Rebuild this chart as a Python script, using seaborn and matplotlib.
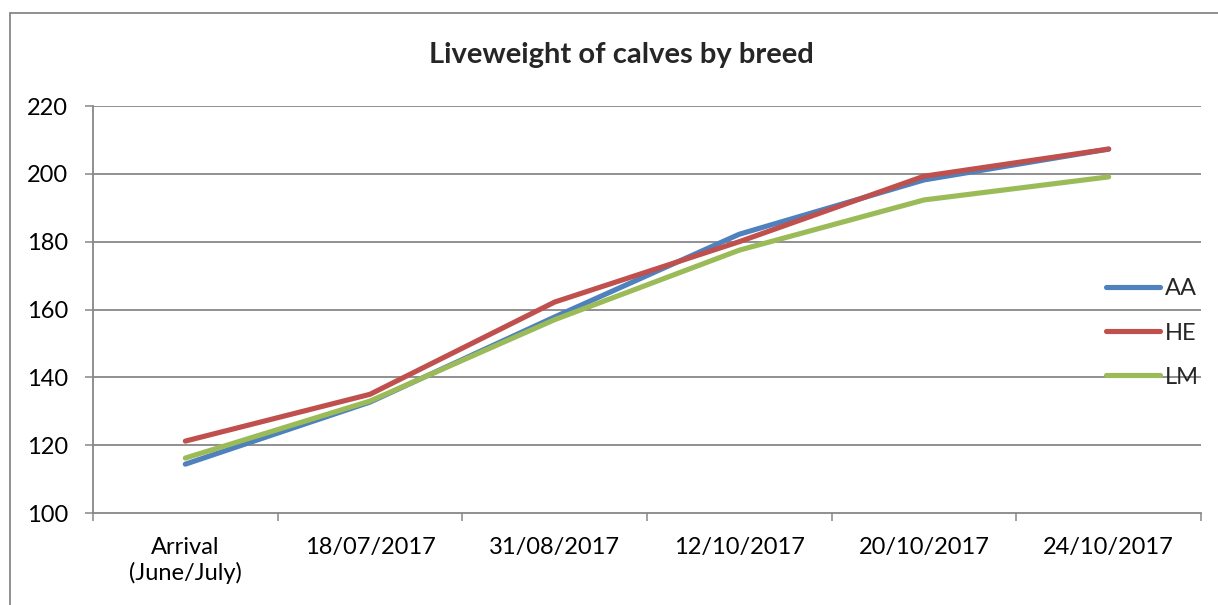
import matplotlib
matplotlib.use("Agg")
import matplotlib.pyplot as plt
from matplotlib.lines import Line2D
import seaborn as sns
import pandas as pd
import numpy as np

categories = ["Arrival\n(June/July)", "18/07/2017", "31/08/2017", "12/10/2017", "20/10/2017", "24/10/2017"]
aa = [114.4, 132.7, 157.8, 182.2, 198.2, 207.3]
he = [121.2, 135.0, 162.2, 180.0, 199.3, 207.3]
lm = [116.2, 133.0, 157.0, 177.5, 192.3, 199.1]
breeds = ["AA", "HE", "LM"]
colors = ["#4F81BD", "#C0504D", "#9BBB59"]
yticks = [100, 120, 140, 160, 180, 200, 220]

sns.set_theme(style="white")
plt.rcParams['font.family'] = ['Lato', 'DejaVu Sans']

rows = []
for b, vals in zip(breeds, [aa, he, lm]):
    for i, v in enumerate(vals):
        rows.append({"pos": i, "weight": v, "breed": b})
df = pd.DataFrame(rows)

W, H = 1218, 605
fig = plt.figure(figsize=(W / 100, H / 100), dpi=100)
ax = fig.add_axes([93 / W, (H - 513) / H, (1201 - 93) / W, (513 - 106) / H])

sns.lineplot(data=df, x="pos", y="weight", hue="breed", palette=dict(zip(breeds, colors)),
             linewidth=3.7, ax=ax, legend=False, solid_capstyle="round", solid_joinstyle="round")

grid_c = "#878787"
ax.set_xlim(-0.5, len(categories) - 0.5)
ax.set_ylim(100, 220)
ax.set_yticks(yticks)
ax.set_yticklabels([str(t) for t in yticks])
for y in yticks[1:]:
    ax.axhline(y, color=grid_c, lw=1.3, zorder=0)

ax.set_xticks(np.arange(len(categories)))
ax.set_xticklabels(categories, linespacing=1.25)
ax.set_xticks(np.arange(-0.5, len(categories), 1.0), minor=True)
ax.tick_params(axis="x", which="major", length=0, pad=17, labelsize=17, colors="black")
ax.tick_params(axis="x", which="minor", length=6, width=1.1, color=grid_c, direction="out")
ax.tick_params(axis="y", which="major", length=6, width=1.1, color=grid_c, direction="out",
               pad=12, labelsize=17, labelcolor="black")
ax.xaxis.set_ticks_position("bottom")
ax.yaxis.set_ticks_position("left")

for s in ["top", "right"]:
    ax.spines[s].set_visible(False)
for s in ["left", "bottom"]:
    ax.spines[s].set_color(grid_c)
    ax.spines[s].set_linewidth(1.3)
ax.set_xlabel("")
ax.set_ylabel("")

handles = [Line2D([0], [0], color=c, lw=3.7, solid_capstyle="round") for c in colors]
fig.legend(handles, breeds, loc="center left", bbox_to_anchor=(1106 / W, 1 - 333 / H),
           frameon=False, fontsize=17, handlelength=2.3, handletextpad=0.2,
           labelspacing=0.98, borderpad=0, borderaxespad=0)

fig.text(621 / W, 1 - 55 / H, "Liveweight of calves by breed", ha="center", va="center",
         fontsize=21, fontweight="bold")

fig.add_artist(Line2D([10 / W, 10 / W], [0, 1 - 13 / H], color=grid_c, lw=1.3, transform=fig.transFigure))
fig.add_artist(Line2D([10 / W, 1], [1 - 13 / H, 1 - 13 / H], color=grid_c, lw=1.3, transform=fig.transFigure))

fig.savefig("out.png", dpi=100, facecolor="white")
